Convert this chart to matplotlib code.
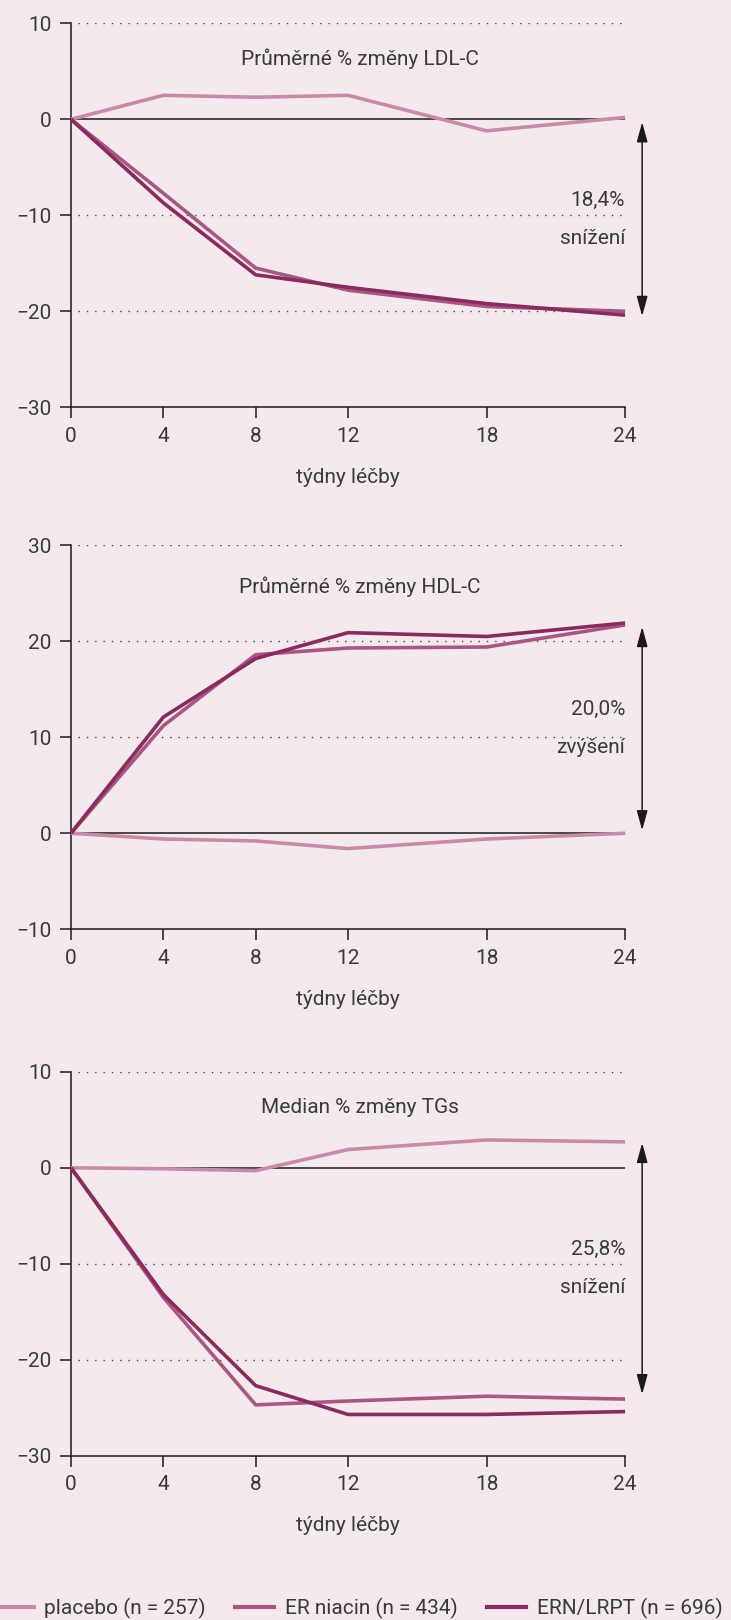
import matplotlib.pyplot as plt
from matplotlib.lines import Line2D

# weeks of treatment
weeks = [0, 4, 8, 12, 18, 24]
series_names = ["placebo (n = 257)", "ER niacin (n = 434)", "ERN/LRPT (n = 696)"]

# LDL-C, mean % change
ldl_placebo = [0, 2.5, 2.3, 2.5, -1.2, 0.2]
ldl_niacin = [0, -7.7, -15.5, -17.8, -19.5, -20.0]
ldl_ernlrpt = [0, -8.7, -16.2, -17.5, -19.2, -20.4]

# HDL-C, mean % change
hdl_placebo = [0, -0.6, -0.8, -1.6, -0.6, 0.0]
hdl_niacin = [0, 11.2, 18.6, 19.3, 19.4, 21.7]
hdl_ernlrpt = [0, 12.1, 18.2, 20.9, 20.5, 21.9]

# TGs, median % change
tg_placebo = [0, -0.1, -0.3, 1.9, 2.9, 2.7]
tg_niacin = [0, -13.5, -24.7, -24.3, -23.8, -24.1]
tg_ernlrpt = [0, -13.2, -22.7, -25.7, -25.7, -25.4]

titles = ["Průměrné % změny LDL-C", "Průměrné % změny HDL-C", "Median % změny TGs"]
ylims = [(-30, 10), (-10, 30), (-30, 10)]
diff_labels = [("18,4%", "snížení"), ("20,0%", "zvýšení"), ("25,8%", "snížení")]
arrow_spans = [(-0.3, -20.5), (21.5, 0.3), (2.6, -23.6)]

bg = "#f4eaee"
txt = "#3a3a3a"
colors = ["#c98aa7", "#aa5683", "#8a2a5e"]

plt.rcParams["font.family"] = ["Roboto", "DejaVu Sans"]
plt.rcParams["font.size"] = 15
plt.rcParams["text.color"] = txt
plt.rcParams["axes.unicode_minus"] = True

fig = plt.figure(figsize=(7.31, 16.2), dpi=100, facecolor=bg)

bottoms = [0.7486, 0.4264, 0.1014]
data = [
    (ldl_placebo, ldl_niacin, ldl_ernlrpt),
    (hdl_placebo, hdl_niacin, hdl_ernlrpt),
    (tg_placebo, tg_niacin, tg_ernlrpt),
]

for i in range(3):
    ax = fig.add_axes([0.0971, bottoms[i], 0.758, 0.237])
    ax.set_facecolor(bg)
    lo, hi = ylims[i]
    ax.set_xlim(0, 24)
    ax.set_ylim(lo, hi)
    ticks = list(range(lo, hi + 1, 10))

    # dotted gridlines, solid zero line
    for t in ticks:
        if t == lo:
            continue
        if t == 0:
            ax.plot([0, 24], [0, 0], color="#1a1a1a", lw=1.1, zorder=1)
        else:
            ax.plot([0.3, 24], [t, t], color="#444444", lw=1.0,
                    linestyle=(0, (1, 5)), zorder=1)

    for ys, c in zip(data[i], colors):
        ax.plot(weeks, ys, color=c, lw=2.6, solid_capstyle="butt", zorder=3,
                clip_on=False)

    ax.set_xticks(weeks)
    ax.set_yticks(ticks)
    ax.tick_params(axis="both", length=8, width=1.1, color="#1a1a1a",
                   labelcolor=txt, labelsize=15, pad=6)
    for s in ["top", "right"]:
        ax.spines[s].set_visible(False)
    for s in ["left", "bottom"]:
        ax.spines[s].set_color("#1a1a1a")
        ax.spines[s].set_linewidth(1.1)
    ax.set_xlabel("týdny léčby", fontsize=15, color=txt, labelpad=16)

    span = hi - lo
    ax.text(12.5, hi - 0.093 * span - (0.015 * span if i == 1 else 0), titles[i],
            ha="center", va="center", fontsize=15, color=txt)

    # difference arrow and label
    y0, y1 = arrow_spans[i]
    ax.annotate("", xy=(24.74, y1), xytext=(24.74, y0), annotation_clip=False,
                arrowprops=dict(arrowstyle="<|-|>,head_length=0.8,head_width=0.22",
                                color="#1a1a1a", lw=1.1, shrinkA=0, shrinkB=0))
    mid = (y0 + y1) / 2
    ax.text(24, mid + 2.0, diff_labels[i][0], ha="right", va="center",
            fontsize=15, color=txt)
    ax.text(24, mid - 2.0, diff_labels[i][1], ha="right", va="center",
            fontsize=15, color=txt)

handles = [Line2D([0], [0], color=c, lw=3) for c in colors]
fig.legend(handles, series_names, loc="center", bbox_to_anchor=(0.49, 1 - 1608 / 1620),
           ncol=3, frameon=False, fontsize=15, handlelength=1.9, handletextpad=0.5,
           columnspacing=1.4, labelcolor=txt)

fig.savefig("out.png", dpi=100, facecolor=bg)
